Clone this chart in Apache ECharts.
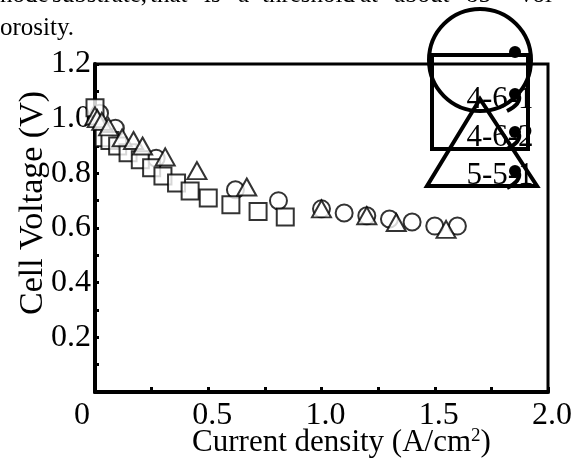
<!DOCTYPE html>
<html>
<head>
<meta charset="utf-8">
<script src="https://cdn.jsdelivr.net/npm/echarts@6.0.0/dist/echarts.min.js"></script>
<style>
  html, body { margin: 0; padding: 0; background: #fff; }
  #chart { width: 574px; height: 460px; }
</style>
</head>
<body>
<div id="chart"></div>
<script>
// 4-6-1 (circles)
var circleCurrent = [0.02, 0.09, 0.27, 0.62, 0.81, 1.00, 1.10, 1.20, 1.30, 1.40, 1.50, 1.60]
var circleVoltage = [1.02, 0.965, 0.855, 0.74, 0.70, 0.67, 0.655, 0.645, 0.633, 0.622, 0.607, 0.607]
// 4-6-2 (squares)
var squareCurrent = [0.0, 0.04, 0.066, 0.10, 0.146, 0.20, 0.25, 0.30, 0.36, 0.42, 0.50, 0.60, 0.72, 0.84]
var squareVoltage = [1.04, 0.93, 0.92, 0.90, 0.875, 0.85, 0.82, 0.79, 0.765, 0.735, 0.71, 0.685, 0.66, 0.64]
// 5-5-1 (triangles)
var triCurrent = [0.0, 0.01, 0.03, 0.06, 0.12, 0.17, 0.21, 0.31, 0.45, 0.67, 1.00, 1.20, 1.33, 1.55]
var triVoltage = [1.01, 1.00, 0.99, 0.97, 0.93, 0.92, 0.90, 0.86, 0.81, 0.75, 0.67, 0.645, 0.62, 0.595]

var seriesNames = ['4-6-1', '4-6-2', '5-5-1']
var xTickLabels = ['0', '0.5', '1.0', '1.5', '2.0']
var yTickLabels = ['', '0.2', '0.4', '0.6', '0.8', '1.0', '1.2']

var serif = 'Liberation Serif'

function pairs(xs, ys) {
  return xs.map(function (x, i) { return [x, ys[i]] })
}

var myChart = echarts.init(document.getElementById('chart'))

function markerStyle() {
  return { color: '#fff', borderColor: '#000', borderWidth: 2 }
}

// words of the cut-off text line above the figure
var topWords = [
  ['node', 0], ['substrate,', 52], ['that', 150], ['is', 204], ['a', 238],
  ['threshold', 262], ['at', 360], ['about', 394], ['85', 466], ['vol', 520]
]

var graphics = topWords.map(function (w) {
  return {
    type: 'text', left: w[1], top: -17,
    style: { text: w[0], font: '25px "' + serif + '"', fill: '#000' }
  }
})
graphics.push({
  type: 'text', left: 0, top: 16,
  style: { text: 'orosity.', font: '25px "' + serif + '"', fill: '#000' }
})

// broken legend, drawn as in the scan
var legendStroke = { stroke: '#000', lineWidth: 4, fill: null }
graphics.push(
  { type: 'circle', shape: { cx: 480, cy: 60, r: 51 }, style: legendStroke, z: 10 },
  { type: 'rect', shape: { x: 432, y: 55, width: 96, height: 94 }, style: legendStroke, z: 10 },
  { type: 'polygon', shape: { points: [[480, 99], [427, 186], [537, 186]] }, style: legendStroke, z: 10 }
)
var labelY = [100, 138, 176]
seriesNames.forEach(function (name, i) {
  graphics.push({
    type: 'text', x: 500, y: labelY[i], z: 11,
    style: {
      text: name, font: '31px "' + serif + '"', fill: '#000',
      align: 'center', verticalAlign: 'middle'
    }
  })
})
var dotY = [52, 94, 132, 171]
dotY.forEach(function (y, i) {
  graphics.push({ type: 'circle', shape: { cx: 515, cy: y, r: 6 }, style: { fill: '#000' }, z: 12 })
  if (i > 0) {
    graphics.push({
      type: 'bezierCurve', z: 12,
      shape: { x1: 519, y1: y + 2, cpx1: 521, cpy1: y + 10, x2: 507, y2: y + 17 },
      style: { stroke: '#000', lineWidth: 4, fill: null }
    })
  }
})

var option = {
  backgroundColor: '#fff',
  animation: false,
  grid: {
    left: 95,
    right: 26,
    top: 64,
    bottom: 68,
    containLabel: false,
    outerBoundsMode: 'none',
    show: true,
    borderColor: '#000',
    borderWidth: 3
  },
  xAxis: {
    type: 'value',
    min: 0,
    max: 2,
    interval: 0.5,
    name: 'Current density (A/cm{sup|2})',
    nameLocation: 'middle',
    nameGap: 35,
    nameMoveOverlap: false,
    nameTextStyle: {
      fontFamily: serif,
      fontSize: 31,
      color: '#000',
      verticalAlign: 'top',
      padding: [0, 0, 0, 40],
      rich: {
        sup: { fontFamily: serif, fontSize: 19, color: '#000', verticalAlign: 'top', padding: [0, 0, 10, 0] }
      }
    },
    axisLine: { onZero: false, lineStyle: { color: '#000', width: 4 } },
    axisTick: { show: true, inside: true, length: 5, lineStyle: { color: '#000', width: 3 } },
    minorTick: { show: true, splitNumber: 2, length: 5, lineStyle: { color: '#000', width: 3 } },
    splitLine: { show: false },
    axisLabel: {
      margin: 8,
      formatter: function (v) {
        var i = Math.round(v / 0.5)
        return i === 0 ? '{z|' + xTickLabels[i] + '}' : '{n|' + xTickLabels[i] + '}'
      },
      rich: {
        z: { fontFamily: serif, fontSize: 32, color: '#000', padding: [0, 26, 0, 0] },
        n: { fontFamily: serif, fontSize: 32, color: '#000', padding: [0, 0, 0, 8] }
      }
    }
  },
  yAxis: {
    type: 'value',
    min: 0,
    max: 1.2,
    interval: 0.2,
    name: 'Cell Voltage (V)',
    nameLocation: 'middle',
    nameGap: 45,
    nameMoveOverlap: false,
    nameTextStyle: { fontFamily: serif, fontSize: 34, color: '#000', padding: [0, 0, 0, 50] },
    axisLine: { onZero: false, lineStyle: { color: '#000', width: 4 } },
    axisTick: { show: true, inside: true, length: 4, lineStyle: { color: '#000', width: 3 } },
    minorTick: { show: true, splitNumber: 2, length: 4, lineStyle: { color: '#000', width: 3 } },
    splitLine: { show: false },
    axisLabel: {
      margin: 4,
      fontFamily: serif,
      fontSize: 32,
      color: '#000',
      padding: [6, 0, 0, 0],
      formatter: function (v) {
        return yTickLabels[Math.round(v / 0.2)]
      }
    }
  },
  series: [
    {
      name: seriesNames[0],
      type: 'scatter',
      symbol: 'circle',
      symbolSize: 17,
      itemStyle: markerStyle(),
      z: 2,
      data: pairs(circleCurrent, circleVoltage)
    },
    {
      name: seriesNames[1],
      type: 'scatter',
      symbol: 'rect',
      symbolSize: 17,
      itemStyle: markerStyle(),
      z: 3,
      data: pairs(squareCurrent, squareVoltage)
    },
    {
      name: seriesNames[2],
      type: 'scatter',
      symbol: 'triangle',
      symbolSize: [19, 17],
      itemStyle: markerStyle(),
      z: 4,
      data: pairs(triCurrent, triVoltage)
    }
  ],
  graphic: graphics
}

option && myChart.setOption(option)
</script>
</body>
</html>
